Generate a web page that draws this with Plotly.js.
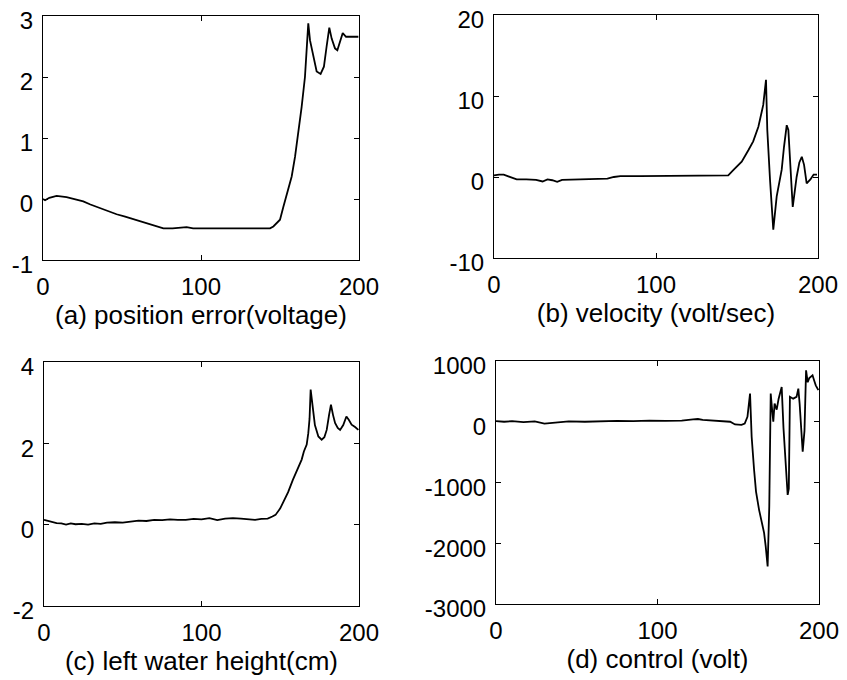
<!DOCTYPE html>
<html>
<head>
<meta charset="utf-8">
<script src="https://cdn.plot.ly/plotly-3.0.1.min.js"></script>
<style>html,body{margin:0;padding:0;background:#fff;}#chart{width:847px;height:680px;}</style>
</head>
<body>
<div id="chart"></div>
<script>
// (a) position error (voltage)
const tA = [0,1.3,4,8.6,14.9,20,25.5,30,36,41,46.6,52,57.2,62,67.7,72,76.2,82,90.9,95,105,115,125,135,143.7,145.8,150,152.1,154.6,157.4,159.5,161.6,163.7,165.8,167.9,169,171.1,173.2,175.7,177.8,179.5,181.2,182.7,184.8,186.3,188,189.7,191.8,195,199.6];
const yA = [0,-0.02,0.02,0.05,0.03,0.0,-0.04,-0.09,-0.15,-0.2,-0.25,-0.29,-0.33,-0.37,-0.41,-0.45,-0.48,-0.48,-0.46,-0.48,-0.48,-0.47,-0.48,-0.48,-0.48,-0.45,-0.34,-0.13,0.09,0.37,0.69,1.08,1.51,2.0,2.88,2.6,2.33,2.09,2.05,2.17,2.5,2.81,2.63,2.47,2.44,2.6,2.72,2.66,2.66,2.66];

// (b) velocity (volt/sec)
const tB = [0,3,6,10,14,20,26,30,33,36,39,42,50,60,70,74,78,90,110,130,140,144.6,148,152.9,157,160,163.2,166.2,167.9,168.7,170.4,172,172.4,174.5,177.6,179,180.7,181.7,182.7,184.4,186.8,188.5,190,191.4,193,195.3,197.3,199.4];
const yB = [0.2,0.3,0.3,0,-0.3,-0.3,-0.35,-0.55,-0.3,-0.4,-0.6,-0.35,-0.3,-0.25,-0.2,0,0.1,0.1,0.15,0.15,0.15,0.2,0.9,1.9,3.3,4.4,6.2,8.9,12,5.8,-0.4,-5.3,-6.5,-2.4,0.9,3.7,6.4,5.8,1.7,-3.7,0,1.8,2.5,1.5,-0.8,-0.3,0.3,0.3];

// (c) left water height (cm)
const tC = [0,2,5,8,11,14,17,20,24,28,32,36,40,45,50,55,60,65,70,75,80,85,90,95,100,105,110,115,120,125,130,134,138,142,145,147,150,152,155,158,161,163.6,165,166.8,167.8,168.6,169.3,170.6,172,174.2,176.3,178,179.5,181,182.2,183.5,184.8,186.5,188,190,192,193.5,195.3,197.5,199.6];
const yC = [0.12,0.1,0.06,0.04,0.03,0.0,0.03,0.01,0.02,0.0,0.03,0.02,0.05,0.06,0.05,0.07,0.1,0.09,0.12,0.11,0.13,0.12,0.12,0.14,0.13,0.16,0.11,0.15,0.16,0.15,0.13,0.12,0.14,0.15,0.2,0.24,0.4,0.57,0.8,1.1,1.35,1.6,1.8,1.97,2.25,2.6,3.32,2.83,2.45,2.17,2.09,2.15,2.33,2.7,2.95,2.7,2.5,2.38,2.33,2.45,2.66,2.58,2.46,2.4,2.33];

// (d) control (volt)
const tD = [0,5,10,17,24,30,35,45,55,65,75,85,95,105,115,122,125,128,135,141,145,148,152,154,155.7,157.3,158.3,159.8,161,162.9,164.5,166,167,168.2,169.2,170.1,170.8,171.7,172.5,173.8,175,176.9,178,179,180.6,181.3,182,184,186.1,187.2,188,189.9,191,192,193,194,196,197,198,199.6];
const yD = [10,0,10,-5,5,-30,-20,5,0,10,15,10,20,15,20,40,45,30,20,15,0,-45,-50,-30,80,465,-248,-790,-1150,-1450,-1650,-1830,-2050,-2383,-1400,465,250,0,300,200,380,573,-100,-600,-1205,-1100,410,380,410,545,300,-494,-150,847,650,720,765,680,600,520];

// axis labels and ticks
const titles = ['(a) position error(voltage)', '(b) velocity (volt/sec)', '(c) left water height(cm)', '(d) control (volt)'];
const xTicks = [0, 100, 200];
const yTicksA = [-1, 0, 1, 2, 3];
const yTicksB = [-10, 0, 10, 20];
const yTicksC = [-2, 0, 2, 4];
const yTicksD = [-3000, -2000, -1000, 0, 1000];
const lbl = v => String(v); // plain hyphen minus, as in the original

const W = 847, H = 680;
const line = {color: '#000', width: 1.8};
const traces = [
  {x: tA, y: yA, xaxis: 'x', yaxis: 'y'},
  {x: tB, y: yB, xaxis: 'x2', yaxis: 'y2'},
  {x: tC, y: yC, xaxis: 'x3', yaxis: 'y3'},
  {x: tD, y: yD, xaxis: 'x4', yaxis: 'y4'}
].map(t => Object.assign(t, {type: 'scatter', mode: 'lines', line: line, hoverinfo: 'skip'}));

const fam = 'Liberation Sans, Arial, sans-serif';
const font = {family: fam, size: 24, color: '#000'};
function xax(l, r, anchor, title) {
  return {domain: [l / W, r / W], anchor: anchor, range: [0, 200], tickvals: xTicks, ticktext: xTicks.map(lbl),
    showline: true, mirror: 'ticks', linecolor: '#000', linewidth: 1, ticks: 'inside', ticklen: 5,
    tickcolor: '#000', showgrid: false, zeroline: false, tickfont: font, automargin: false,
    ticklabelstandoff: 5, ticklabeloverflow: 'allow',
    title: {text: title, font: {family: fam, size: 26, color: '#000'}, standoff: 2}};
}
function yax(top, bot, anchor, range, vals) {
  return {domain: [1 - bot / H, 1 - top / H], anchor: anchor, range: range, tickvals: vals, ticktext: vals.map(lbl),
    showline: true, mirror: 'ticks', linecolor: '#000', linewidth: 1, ticks: 'inside', ticklen: 5,
    tickcolor: '#000', showgrid: false, zeroline: false, tickfont: font, automargin: false,
    ticklabelstandoff: 4, ticklabelshift: 5, ticklabeloverflow: 'allow'};
}

const layout = {
  width: W, height: H, showlegend: false,
  margin: {l: 0, r: 0, t: 0, b: 0},
  paper_bgcolor: '#fff', plot_bgcolor: '#fff',
  font: font,
  xaxis: xax(43, 359, 'y', titles[0]),
  yaxis: yax(16, 260, 'x', [-1, 3], yTicksA),
  xaxis2: xax(494, 818, 'y2', titles[1]),
  yaxis2: yax(15, 258, 'x2', [-10, 20], yTicksB),
  xaxis3: xax(44, 359, 'y3', titles[2]),
  yaxis3: yax(362, 606, 'x3', [-2, 4], yTicksC),
  xaxis4: xax(496, 819, 'y4', titles[3]),
  yaxis4: yax(361, 604, 'x4', [-3000, 1000], yTicksD)
};

Plotly.newPlot('chart', traces, layout, {staticPlot: true, displayModeBar: false});
</script>
</body>
</html>
